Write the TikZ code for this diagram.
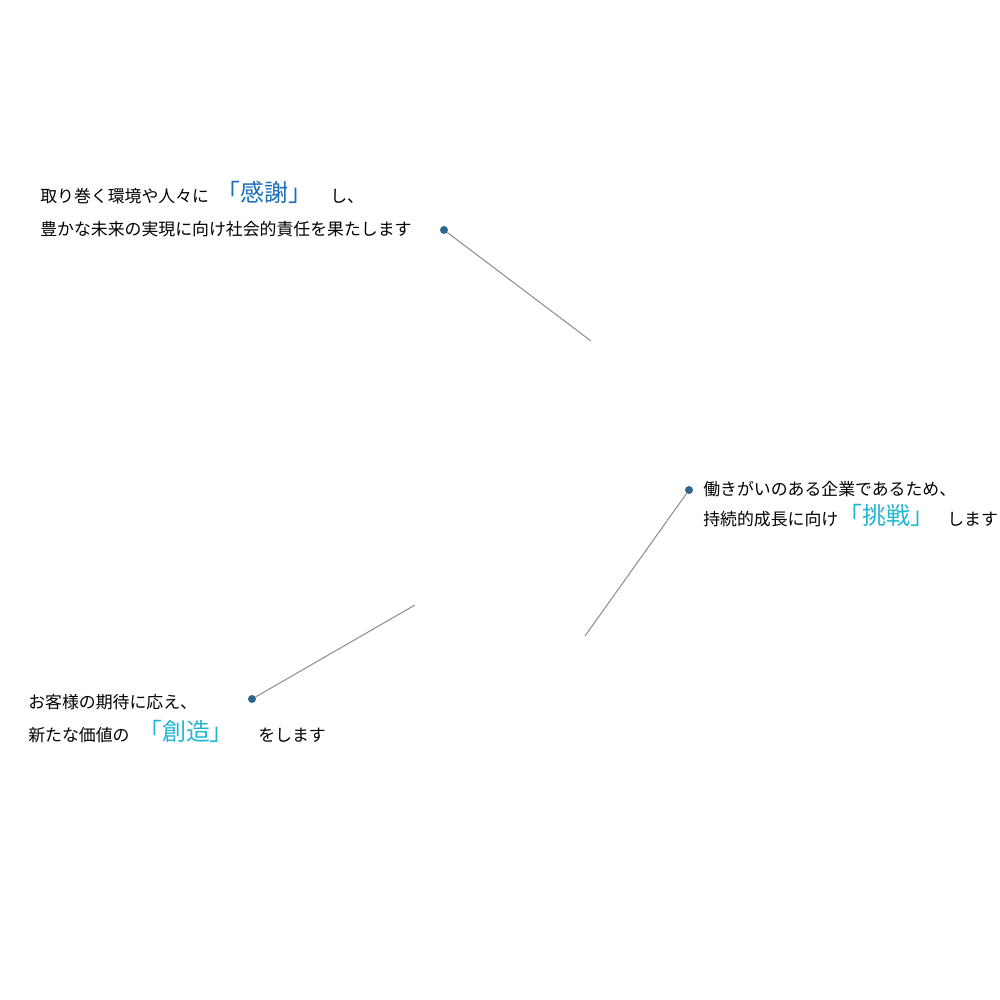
\documentclass[tikz,border=0pt]{standalone}
\usepackage{fontspec}
\setmainfont{Noto Sans CJK JP}
\definecolor{kblue}{HTML}{1A6EB8}
\definecolor{kcyan}{HTML}{22B6D2}
\definecolor{dotc}{HTML}{2F6690}
\definecolor{linec}{HTML}{8A8A8A}
\begin{document}
\begin{tikzpicture}[x=0.025cm,y=-0.025cm,
  txt/.style={anchor=west,inner sep=0,font=\fontsize{12pt}{14pt}\selectfont,text=black},
  big/.style={anchor=west,inner sep=0,font=\fontsize{17pt}{20pt}\selectfont},
  dotm/.style={circle,fill=dotc,inner sep=0,minimum size=0.2cm},
  conn/.style={draw=linec,line width=0.7pt}]
\useasboundingbox (0,0) rectangle (1000,1000);
% top-left
\node[txt] (a1) at (40,196) {取り巻く環境や人々に};
\node[big,text=kblue] (a2) at (216,192) {「感謝」};
\node[txt] (a3) at (330,196) {し、};
\node[txt] (a4) at (40,229) {豊かな未来の実現に向け社会的責任を果たします};
\node[dotm] (d1) at (444,230) {};
\coordinate (e1) at (591,341);
\draw[conn] (d1) -- (e1);
% right
\node[txt] (b1) at (703,489) {働きがいのある企業であるため、};
\node[txt] (b2) at (703,519) {持続的成長に向け};
\node[big,text=kcyan] (b3) at (838,515) {「挑戦」};
\node[txt] (b4) at (947,519) {します};
\node[dotm] (d2) at (689,490) {};
\coordinate (e2) at (585,636);
\draw[conn] (d2) -- (e2);
% left
\node[txt] (c1) at (28,702) {お客様の期待に応え、};
\node[txt] (c2) at (28,735) {新たな価値の};
\node[big,text=kcyan] (c3) at (138,731) {「創造」};
\node[txt] (c4) at (258,735) {をします};
\node[dotm] (d3) at (252,699) {};
\coordinate (e3) at (415,605);
\draw[conn] (d3) -- (e3);
\end{tikzpicture}
\end{document}
